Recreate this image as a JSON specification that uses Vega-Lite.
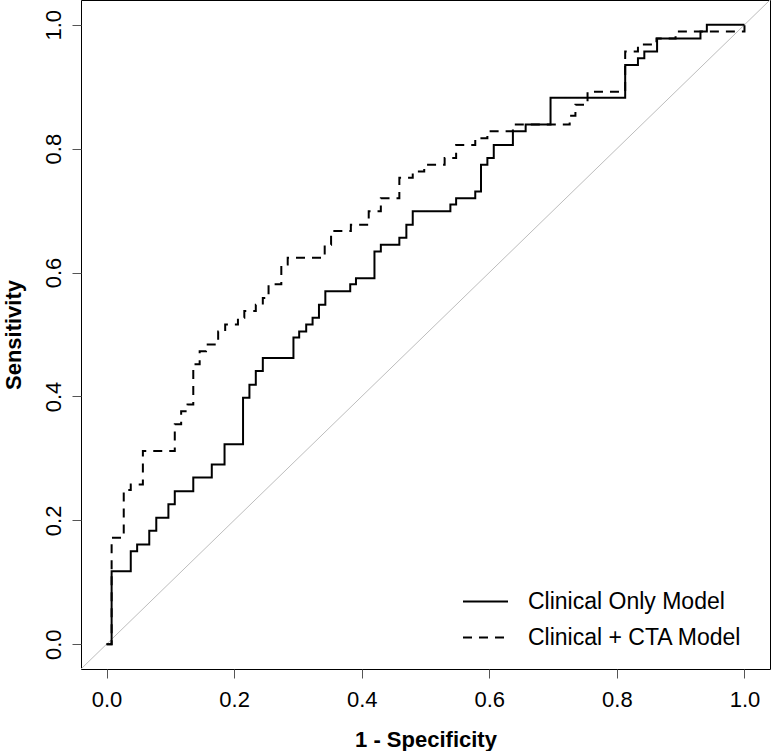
{
  "$schema": "https://vega.github.io/schema/vega-lite/v6.json",
  "width": 689,
  "height": 669,
  "autosize": {"type": "none"},
  "padding": {"left": 81, "top": 0, "right": 1, "bottom": 82},
  "background": "white",
  "config": {
    "view": {"stroke": "black", "strokeWidth": 1},
    "font": "Liberation Sans"
  },
  "datasets": {
    "diag": [{"x": -0.04, "y": -0.04}, {"x": 1.04, "y": 1.04}],
    "roc": [
      {"model": "Clinical Only Model", "i": 1, "x": 0, "y": 0},
      {"model": "Clinical Only Model", "i": 2, "x": 0.008, "y": 0},
      {"model": "Clinical Only Model", "i": 3, "x": 0.008, "y": 0.118},
      {"model": "Clinical Only Model", "i": 4, "x": 0.038, "y": 0.118},
      {"model": "Clinical Only Model", "i": 5, "x": 0.038, "y": 0.150},
      {"model": "Clinical Only Model", "i": 6, "x": 0.048, "y": 0.150},
      {"model": "Clinical Only Model", "i": 7, "x": 0.048, "y": 0.161},
      {"model": "Clinical Only Model", "i": 8, "x": 0.067, "y": 0.161},
      {"model": "Clinical Only Model", "i": 9, "x": 0.067, "y": 0.183},
      {"model": "Clinical Only Model", "i": 10, "x": 0.078, "y": 0.183},
      {"model": "Clinical Only Model", "i": 11, "x": 0.078, "y": 0.204},
      {"model": "Clinical Only Model", "i": 12, "x": 0.097, "y": 0.204},
      {"model": "Clinical Only Model", "i": 13, "x": 0.097, "y": 0.226},
      {"model": "Clinical Only Model", "i": 14, "x": 0.107, "y": 0.226},
      {"model": "Clinical Only Model", "i": 15, "x": 0.107, "y": 0.247},
      {"model": "Clinical Only Model", "i": 16, "x": 0.136, "y": 0.247},
      {"model": "Clinical Only Model", "i": 17, "x": 0.136, "y": 0.269},
      {"model": "Clinical Only Model", "i": 18, "x": 0.165, "y": 0.269},
      {"model": "Clinical Only Model", "i": 19, "x": 0.165, "y": 0.290},
      {"model": "Clinical Only Model", "i": 20, "x": 0.185, "y": 0.290},
      {"model": "Clinical Only Model", "i": 21, "x": 0.185, "y": 0.323},
      {"model": "Clinical Only Model", "i": 22, "x": 0.214, "y": 0.323},
      {"model": "Clinical Only Model", "i": 23, "x": 0.214, "y": 0.398},
      {"model": "Clinical Only Model", "i": 24, "x": 0.224, "y": 0.398},
      {"model": "Clinical Only Model", "i": 25, "x": 0.224, "y": 0.419},
      {"model": "Clinical Only Model", "i": 26, "x": 0.234, "y": 0.419},
      {"model": "Clinical Only Model", "i": 27, "x": 0.234, "y": 0.441},
      {"model": "Clinical Only Model", "i": 28, "x": 0.245, "y": 0.441},
      {"model": "Clinical Only Model", "i": 29, "x": 0.245, "y": 0.462},
      {"model": "Clinical Only Model", "i": 30, "x": 0.293, "y": 0.462},
      {"model": "Clinical Only Model", "i": 31, "x": 0.293, "y": 0.495},
      {"model": "Clinical Only Model", "i": 32, "x": 0.302, "y": 0.495},
      {"model": "Clinical Only Model", "i": 33, "x": 0.302, "y": 0.505},
      {"model": "Clinical Only Model", "i": 34, "x": 0.313, "y": 0.505},
      {"model": "Clinical Only Model", "i": 35, "x": 0.313, "y": 0.516},
      {"model": "Clinical Only Model", "i": 36, "x": 0.323, "y": 0.516},
      {"model": "Clinical Only Model", "i": 37, "x": 0.323, "y": 0.527},
      {"model": "Clinical Only Model", "i": 38, "x": 0.333, "y": 0.527},
      {"model": "Clinical Only Model", "i": 39, "x": 0.333, "y": 0.548},
      {"model": "Clinical Only Model", "i": 40, "x": 0.343, "y": 0.548},
      {"model": "Clinical Only Model", "i": 41, "x": 0.343, "y": 0.570},
      {"model": "Clinical Only Model", "i": 42, "x": 0.382, "y": 0.570},
      {"model": "Clinical Only Model", "i": 43, "x": 0.382, "y": 0.581},
      {"model": "Clinical Only Model", "i": 44, "x": 0.391, "y": 0.581},
      {"model": "Clinical Only Model", "i": 45, "x": 0.391, "y": 0.591},
      {"model": "Clinical Only Model", "i": 46, "x": 0.420, "y": 0.591},
      {"model": "Clinical Only Model", "i": 47, "x": 0.420, "y": 0.634},
      {"model": "Clinical Only Model", "i": 48, "x": 0.430, "y": 0.634},
      {"model": "Clinical Only Model", "i": 49, "x": 0.430, "y": 0.645},
      {"model": "Clinical Only Model", "i": 50, "x": 0.459, "y": 0.645},
      {"model": "Clinical Only Model", "i": 51, "x": 0.459, "y": 0.656},
      {"model": "Clinical Only Model", "i": 52, "x": 0.470, "y": 0.656},
      {"model": "Clinical Only Model", "i": 53, "x": 0.470, "y": 0.677},
      {"model": "Clinical Only Model", "i": 54, "x": 0.480, "y": 0.677},
      {"model": "Clinical Only Model", "i": 55, "x": 0.480, "y": 0.699},
      {"model": "Clinical Only Model", "i": 56, "x": 0.539, "y": 0.699},
      {"model": "Clinical Only Model", "i": 57, "x": 0.539, "y": 0.710},
      {"model": "Clinical Only Model", "i": 58, "x": 0.548, "y": 0.710},
      {"model": "Clinical Only Model", "i": 59, "x": 0.548, "y": 0.720},
      {"model": "Clinical Only Model", "i": 60, "x": 0.578, "y": 0.720},
      {"model": "Clinical Only Model", "i": 61, "x": 0.578, "y": 0.731},
      {"model": "Clinical Only Model", "i": 62, "x": 0.587, "y": 0.731},
      {"model": "Clinical Only Model", "i": 63, "x": 0.587, "y": 0.774},
      {"model": "Clinical Only Model", "i": 64, "x": 0.597, "y": 0.774},
      {"model": "Clinical Only Model", "i": 65, "x": 0.597, "y": 0.785},
      {"model": "Clinical Only Model", "i": 66, "x": 0.607, "y": 0.785},
      {"model": "Clinical Only Model", "i": 67, "x": 0.607, "y": 0.806},
      {"model": "Clinical Only Model", "i": 68, "x": 0.637, "y": 0.806},
      {"model": "Clinical Only Model", "i": 69, "x": 0.637, "y": 0.828},
      {"model": "Clinical Only Model", "i": 70, "x": 0.657, "y": 0.828},
      {"model": "Clinical Only Model", "i": 71, "x": 0.657, "y": 0.839},
      {"model": "Clinical Only Model", "i": 72, "x": 0.696, "y": 0.839},
      {"model": "Clinical Only Model", "i": 73, "x": 0.696, "y": 0.882},
      {"model": "Clinical Only Model", "i": 74, "x": 0.813, "y": 0.882},
      {"model": "Clinical Only Model", "i": 75, "x": 0.813, "y": 0.935},
      {"model": "Clinical Only Model", "i": 76, "x": 0.833, "y": 0.935},
      {"model": "Clinical Only Model", "i": 77, "x": 0.833, "y": 0.946},
      {"model": "Clinical Only Model", "i": 78, "x": 0.843, "y": 0.946},
      {"model": "Clinical Only Model", "i": 79, "x": 0.843, "y": 0.957},
      {"model": "Clinical Only Model", "i": 80, "x": 0.863, "y": 0.957},
      {"model": "Clinical Only Model", "i": 81, "x": 0.863, "y": 0.978},
      {"model": "Clinical Only Model", "i": 82, "x": 0.931, "y": 0.978},
      {"model": "Clinical Only Model", "i": 83, "x": 0.931, "y": 0.989},
      {"model": "Clinical Only Model", "i": 84, "x": 0.941, "y": 0.989},
      {"model": "Clinical Only Model", "i": 85, "x": 0.941, "y": 1.0},
      {"model": "Clinical Only Model", "i": 86, "x": 1.0, "y": 1.0},
      {"model": "Clinical + CTA Model", "i": 1, "x": 0, "y": 0},
      {"model": "Clinical + CTA Model", "i": 2, "x": 0.008, "y": 0},
      {"model": "Clinical + CTA Model", "i": 3, "x": 0.008, "y": 0.172},
      {"model": "Clinical + CTA Model", "i": 4, "x": 0.027, "y": 0.172},
      {"model": "Clinical + CTA Model", "i": 5, "x": 0.027, "y": 0.249},
      {"model": "Clinical + CTA Model", "i": 6, "x": 0.038, "y": 0.249},
      {"model": "Clinical + CTA Model", "i": 7, "x": 0.038, "y": 0.258},
      {"model": "Clinical + CTA Model", "i": 8, "x": 0.057, "y": 0.258},
      {"model": "Clinical + CTA Model", "i": 9, "x": 0.057, "y": 0.312},
      {"model": "Clinical + CTA Model", "i": 10, "x": 0.107, "y": 0.312},
      {"model": "Clinical + CTA Model", "i": 11, "x": 0.107, "y": 0.355},
      {"model": "Clinical + CTA Model", "i": 12, "x": 0.117, "y": 0.355},
      {"model": "Clinical + CTA Model", "i": 13, "x": 0.117, "y": 0.376},
      {"model": "Clinical + CTA Model", "i": 14, "x": 0.127, "y": 0.376},
      {"model": "Clinical + CTA Model", "i": 15, "x": 0.127, "y": 0.387},
      {"model": "Clinical + CTA Model", "i": 16, "x": 0.136, "y": 0.387},
      {"model": "Clinical + CTA Model", "i": 17, "x": 0.136, "y": 0.452},
      {"model": "Clinical + CTA Model", "i": 18, "x": 0.146, "y": 0.452},
      {"model": "Clinical + CTA Model", "i": 19, "x": 0.146, "y": 0.473},
      {"model": "Clinical + CTA Model", "i": 20, "x": 0.156, "y": 0.473},
      {"model": "Clinical + CTA Model", "i": 21, "x": 0.156, "y": 0.484},
      {"model": "Clinical + CTA Model", "i": 22, "x": 0.175, "y": 0.484},
      {"model": "Clinical + CTA Model", "i": 23, "x": 0.175, "y": 0.505},
      {"model": "Clinical + CTA Model", "i": 24, "x": 0.186, "y": 0.505},
      {"model": "Clinical + CTA Model", "i": 25, "x": 0.186, "y": 0.516},
      {"model": "Clinical + CTA Model", "i": 26, "x": 0.206, "y": 0.516},
      {"model": "Clinical + CTA Model", "i": 27, "x": 0.206, "y": 0.527},
      {"model": "Clinical + CTA Model", "i": 28, "x": 0.216, "y": 0.527},
      {"model": "Clinical + CTA Model", "i": 29, "x": 0.216, "y": 0.538},
      {"model": "Clinical + CTA Model", "i": 30, "x": 0.234, "y": 0.538},
      {"model": "Clinical + CTA Model", "i": 31, "x": 0.234, "y": 0.548},
      {"model": "Clinical + CTA Model", "i": 32, "x": 0.245, "y": 0.548},
      {"model": "Clinical + CTA Model", "i": 33, "x": 0.245, "y": 0.559},
      {"model": "Clinical + CTA Model", "i": 34, "x": 0.254, "y": 0.559},
      {"model": "Clinical + CTA Model", "i": 35, "x": 0.254, "y": 0.581},
      {"model": "Clinical + CTA Model", "i": 36, "x": 0.274, "y": 0.581},
      {"model": "Clinical + CTA Model", "i": 37, "x": 0.274, "y": 0.613},
      {"model": "Clinical + CTA Model", "i": 38, "x": 0.284, "y": 0.613},
      {"model": "Clinical + CTA Model", "i": 39, "x": 0.284, "y": 0.624},
      {"model": "Clinical + CTA Model", "i": 40, "x": 0.342, "y": 0.624},
      {"model": "Clinical + CTA Model", "i": 41, "x": 0.342, "y": 0.645},
      {"model": "Clinical + CTA Model", "i": 42, "x": 0.352, "y": 0.645},
      {"model": "Clinical + CTA Model", "i": 43, "x": 0.352, "y": 0.667},
      {"model": "Clinical + CTA Model", "i": 44, "x": 0.383, "y": 0.667},
      {"model": "Clinical + CTA Model", "i": 45, "x": 0.383, "y": 0.677},
      {"model": "Clinical + CTA Model", "i": 46, "x": 0.411, "y": 0.677},
      {"model": "Clinical + CTA Model", "i": 47, "x": 0.411, "y": 0.699},
      {"model": "Clinical + CTA Model", "i": 48, "x": 0.430, "y": 0.699},
      {"model": "Clinical + CTA Model", "i": 49, "x": 0.430, "y": 0.720},
      {"model": "Clinical + CTA Model", "i": 50, "x": 0.459, "y": 0.720},
      {"model": "Clinical + CTA Model", "i": 51, "x": 0.459, "y": 0.753},
      {"model": "Clinical + CTA Model", "i": 52, "x": 0.480, "y": 0.753},
      {"model": "Clinical + CTA Model", "i": 53, "x": 0.480, "y": 0.763},
      {"model": "Clinical + CTA Model", "i": 54, "x": 0.498, "y": 0.763},
      {"model": "Clinical + CTA Model", "i": 55, "x": 0.498, "y": 0.774},
      {"model": "Clinical + CTA Model", "i": 56, "x": 0.530, "y": 0.774},
      {"model": "Clinical + CTA Model", "i": 57, "x": 0.530, "y": 0.785},
      {"model": "Clinical + CTA Model", "i": 58, "x": 0.548, "y": 0.785},
      {"model": "Clinical + CTA Model", "i": 59, "x": 0.548, "y": 0.806},
      {"model": "Clinical + CTA Model", "i": 60, "x": 0.578, "y": 0.806},
      {"model": "Clinical + CTA Model", "i": 61, "x": 0.578, "y": 0.817},
      {"model": "Clinical + CTA Model", "i": 62, "x": 0.597, "y": 0.817},
      {"model": "Clinical + CTA Model", "i": 63, "x": 0.597, "y": 0.828},
      {"model": "Clinical + CTA Model", "i": 64, "x": 0.637, "y": 0.828},
      {"model": "Clinical + CTA Model", "i": 65, "x": 0.637, "y": 0.839},
      {"model": "Clinical + CTA Model", "i": 66, "x": 0.726, "y": 0.839},
      {"model": "Clinical + CTA Model", "i": 67, "x": 0.726, "y": 0.853},
      {"model": "Clinical + CTA Model", "i": 68, "x": 0.735, "y": 0.853},
      {"model": "Clinical + CTA Model", "i": 69, "x": 0.735, "y": 0.871},
      {"model": "Clinical + CTA Model", "i": 70, "x": 0.754, "y": 0.871},
      {"model": "Clinical + CTA Model", "i": 71, "x": 0.754, "y": 0.892},
      {"model": "Clinical + CTA Model", "i": 72, "x": 0.813, "y": 0.892},
      {"model": "Clinical + CTA Model", "i": 73, "x": 0.813, "y": 0.957},
      {"model": "Clinical + CTA Model", "i": 74, "x": 0.833, "y": 0.957},
      {"model": "Clinical + CTA Model", "i": 75, "x": 0.833, "y": 0.968},
      {"model": "Clinical + CTA Model", "i": 76, "x": 0.862, "y": 0.968},
      {"model": "Clinical + CTA Model", "i": 77, "x": 0.862, "y": 0.978},
      {"model": "Clinical + CTA Model", "i": 78, "x": 0.892, "y": 0.978},
      {"model": "Clinical + CTA Model", "i": 79, "x": 0.892, "y": 0.989},
      {"model": "Clinical + CTA Model", "i": 80, "x": 1.0, "y": 0.989},
      {"model": "Clinical + CTA Model", "i": 81, "x": 1.0, "y": 1.0}
    ]
  },
  "layer": [
    {
      "data": {"name": "diag"},
      "mark": {"type": "line", "color": "#bdbdbd", "strokeWidth": 1, "clip": true},
      "encoding": {
        "x": {"field": "x", "type": "quantitative", "scale": {"domain": [-0.04, 1.04], "nice": false, "zero": false}},
        "y": {"field": "y", "type": "quantitative", "scale": {"domain": [-0.04, 1.04], "nice": false, "zero": false}}
      }
    },
    {
      "data": {"name": "roc"},
      "mark": {"type": "line", "color": "black", "strokeWidth": 2, "clip": true},
      "encoding": {
        "x": {
          "field": "x", "type": "quantitative",
          "scale": {"domain": [-0.04, 1.04], "nice": false, "zero": false},
          "axis": {
            "values": [0, 0.2, 0.4, 0.6, 0.8, 1.0], "format": ".1f",
            "domain": false, "grid": false,
            "tickSize": 9, "tickColor": "#555555", "tickWidth": 1,
            "labelFontSize": 22, "labelColor": "black", "labelFont": "Liberation Sans",
            "labelBaseline": "alphabetic", "labelPadding": 28, "labelFlush": false, "labelOverlap": false,
            "title": "1 - Specificity", "titleFontSize": 22, "titleFontWeight": "bold",
            "titleFont": "Liberation Sans", "titleColor": "black",
            "titleBaseline": "alphabetic", "titleY": 77
          }
        },
        "y": {
          "field": "y", "type": "quantitative",
          "scale": {"domain": [-0.04, 1.04], "nice": false, "zero": false},
          "axis": {
            "values": [0, 0.2, 0.4, 0.6, 0.8, 1.0], "format": ".1f",
            "domain": false, "grid": false,
            "tickSize": 9, "tickColor": "#555555", "tickWidth": 1,
            "labelFontSize": 22, "labelColor": "black", "labelFont": "Liberation Sans",
            "labelAngle": 270, "labelAlign": "center", "labelBaseline": "alphabetic",
            "labelPadding": 12, "labelFlush": false, "labelOverlap": false,
            "title": "Sensitivity", "titleFontSize": 22, "titleFontWeight": "bold",
            "titleFont": "Liberation Sans", "titleColor": "black",
            "titleAngle": 270, "titleAlign": "center", "titleBaseline": "alphabetic", "titleX": -61
          }
        },
        "strokeDash": {
          "field": "model", "type": "nominal",
          "scale": {"domain": ["Clinical Only Model", "Clinical + CTA Model"], "range": [[1, 0], [9, 7]]},
          "legend": {
            "orient": "none", "legendX": 381, "legendY": 578,
            "title": null, "padding": 0,
            "symbolType": "stroke", "symbolSize": 2025, "symbolStrokeWidth": 2,
            "symbolStrokeColor": "black",
            "labelFontSize": 23, "labelFont": "Liberation Sans", "labelColor": "black",
            "labelOffset": 19, "labelLimit": 400, "rowPadding": -12
          }
        },
        "order": {"field": "i", "type": "quantitative"}
      }
    }
  ]
}
